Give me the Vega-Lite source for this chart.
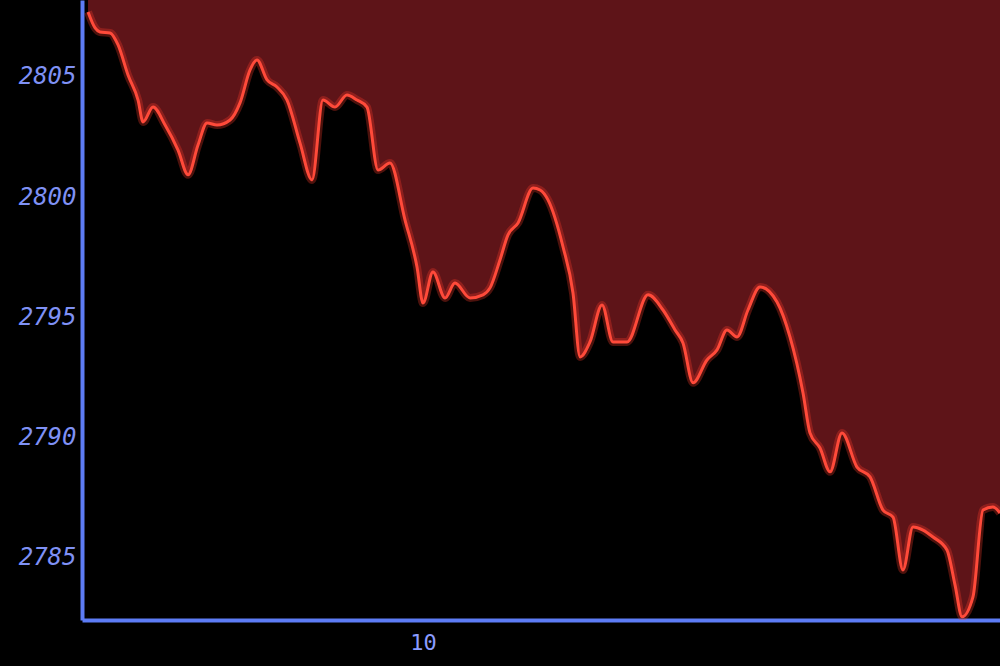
{
  "$schema": "https://vega.github.io/schema/vega-lite/v6.json",
  "width": 918,
  "height": 620,
  "autosize": {"type": "none"},
  "padding": {"left": 82, "top": 0, "right": 0, "bottom": 46},
  "background": "#000000",
  "config": {"view": {"stroke": null}},
  "data": {"values": [
    {"t": 0, "v": 2807.70}, {"t": 0.63, "v": 2807.04}, {"t": 1.07, "v": 2806.87}, {"t": 1.97, "v": 2806.83},
    {"t": 2.69, "v": 2806.33}, {"t": 3.58, "v": 2805.08}, {"t": 4.48, "v": 2804.04}, {"t": 4.93, "v": 2803.13},
    {"t": 5.82, "v": 2803.75}, {"t": 6.90, "v": 2803.00}, {"t": 8.06, "v": 2801.96}, {"t": 8.96, "v": 2800.93},
    {"t": 9.85, "v": 2802.17}, {"t": 10.66, "v": 2803.09}, {"t": 11.55, "v": 2803.00}, {"t": 12.72, "v": 2803.21},
    {"t": 13.61, "v": 2803.92}, {"t": 14.51, "v": 2805.29}, {"t": 15.13, "v": 2805.71}, {"t": 16.03, "v": 2804.88},
    {"t": 16.92, "v": 2804.58}, {"t": 17.82, "v": 2804.04}, {"t": 18.98, "v": 2802.26}, {"t": 20.06, "v": 2800.72},
    {"t": 21.04, "v": 2804.04}, {"t": 22.12, "v": 2803.75}, {"t": 23.19, "v": 2804.25}, {"t": 24.09, "v": 2804.04},
    {"t": 24.98, "v": 2803.75}, {"t": 25.97, "v": 2801.13}, {"t": 27.04, "v": 2801.42}, {"t": 28.39, "v": 2799.05},
    {"t": 29.46, "v": 2797.10}, {"t": 30.00, "v": 2795.60}, {"t": 30.89, "v": 2796.89}, {"t": 31.97, "v": 2795.81},
    {"t": 32.86, "v": 2796.43}, {"t": 34.21, "v": 2795.81}, {"t": 35.37, "v": 2795.94}, {"t": 36.00, "v": 2796.23},
    {"t": 36.89, "v": 2797.39}, {"t": 37.61, "v": 2798.43}, {"t": 38.51, "v": 2798.93}, {"t": 39.85, "v": 2800.38},
    {"t": 40.48, "v": 2800.30}, {"t": 41.19, "v": 2799.89}, {"t": 42.54, "v": 2797.93}, {"t": 43.43, "v": 2796.02},
    {"t": 44.06, "v": 2793.36}, {"t": 44.95, "v": 2793.98}, {"t": 46.03, "v": 2795.52}, {"t": 47.01, "v": 2793.98},
    {"t": 48.27, "v": 2793.98}, {"t": 50.15, "v": 2795.94}, {"t": 51.49, "v": 2795.31}, {"t": 52.57, "v": 2794.48},
    {"t": 53.28, "v": 2793.94}, {"t": 54.18, "v": 2792.28}, {"t": 55.43, "v": 2793.23}, {"t": 56.33, "v": 2793.65},
    {"t": 57.22, "v": 2794.48}, {"t": 58.12, "v": 2794.19}, {"t": 59.10, "v": 2795.31}, {"t": 60.18, "v": 2796.27},
    {"t": 61.70, "v": 2795.64}, {"t": 62.86, "v": 2794.19}, {"t": 64.03, "v": 2791.86}, {"t": 64.65, "v": 2790.20},
    {"t": 65.55, "v": 2789.57}, {"t": 66.45, "v": 2788.58}, {"t": 67.52, "v": 2790.20}, {"t": 68.86, "v": 2788.78},
    {"t": 70.03, "v": 2788.37}, {"t": 71.19, "v": 2786.99}, {"t": 72.09, "v": 2786.70}, {"t": 72.98, "v": 2784.50},
    {"t": 73.88, "v": 2786.29}, {"t": 74.77, "v": 2786.16}, {"t": 75.67, "v": 2785.87}, {"t": 76.92, "v": 2785.33},
    {"t": 77.64, "v": 2783.88}, {"t": 78.27, "v": 2782.55}, {"t": 79.25, "v": 2783.38}, {"t": 80.15, "v": 2786.99},
    {"t": 81.04, "v": 2787.12}, {"t": 81.67, "v": 2786.87}
  ]},
  "encoding": {
    "x": {
      "field": "t", "type": "quantitative",
      "scale": {"domain": [-0.54, 81.67], "nice": false, "zero": false},
      "axis": {
        "title": null, "values": [30], "labelExpr": "'10'", "ticks": false, "grid": false,
        "domainColor": "#5d7cf5", "domainWidth": 4,
        "labelColor": "#8a9cff", "labelFont": "DejaVu Sans Mono", "labelFontSize": 22,
        "labelPadding": 12
      }
    },
    "y": {
      "field": "v", "type": "quantitative",
      "scale": {"domain": [2782.42, 2808.2], "nice": false, "zero": false},
      "axis": {
        "title": null, "values": [2785, 2790, 2795, 2800, 2805], "format": "d", "ticks": false, "grid": false,
        "domainColor": "#5d7cf5", "domainWidth": 4,
        "labelColor": "#7f91f5", "labelFont": "DejaVu Sans Mono", "labelFontSize": 24,
        "labelFontStyle": "italic", "labelPadding": 6
      }
    }
  },
  "layer": [
    {
      "mark": {"type": "area", "color": "#5e1418", "interpolate": "monotone", "clip": true},
      "encoding": {"y2": {"datum": 2808.2}}
    },
    {
      "mark": {"type": "line", "color": "#ff3a2a", "strokeWidth": 8, "opacity": 0.3, "interpolate": "monotone", "clip": true},
      "encoding": {}
    },
    {
      "mark": {"type": "line", "color": "#ff4a3a", "strokeWidth": 3, "interpolate": "monotone", "clip": true},
      "encoding": {}
    }
  ]
}
